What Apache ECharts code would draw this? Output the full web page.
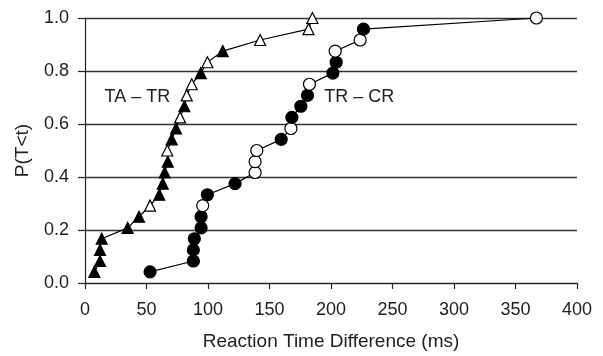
<!DOCTYPE html>
<html>
<head>
<meta charset="utf-8">
<script src="https://cdn.jsdelivr.net/npm/echarts@6/dist/echarts.min.js"></script>
<style>html,body{margin:0;padding:0;background:#fff}#c{width:603px;height:356px}</style>
</head>
<body>
<div id="c"></div>
<script>
// Cumulative probability levels P(T<t)
var probs = [0.042,0.083,0.125,0.167,0.208,0.25,0.292,0.333,0.375,0.417,0.458,0.5,0.542,0.583,0.625,0.667,0.708,0.75,0.792,0.833,0.875,0.917,0.958,1.0];
// TA – TR reaction time differences (ms)
var taTrX = [7.6,12.2,12.2,13.6,34.7,43.9,52.9,60.4,63.2,64.8,67.3,66.9,70.5,74,77.3,80.8,82.7,86.8,94.1,99.5,112,142.4,181.7,184.9];
var taTrFilled = [1,1,1,1,1,1,0,1,1,1,1,0,1,1,0,1,0,0,1,0,1,0,0,0];
// TR – CR reaction time differences (ms)
var trCrX = [52.9,88.1,88.1,88.9,94.4,94.4,95.7,99.5,122,138.3,138.3,139.7,159.5,167.4,168.2,175.5,180.9,182.5,201.5,204.2,203.4,223.7,226.4,367];
var trCrFilled = [1,1,1,1,1,1,0,1,1,0,0,0,1,0,1,1,1,0,1,1,0,0,1,0];
var xTicks = [0,50,100,150,200,250,300,350,400];
var yTicks = [0,0.2,0.4,0.6,0.8,1.0];
var seriesNames = ['TA – TR', 'TR – CR'];

function build(xs, flags){
  return xs.map(function(x,i){
    return {value:[x, probs[i]], itemStyle:{color: flags[i] ? '#000' : '#fff', borderColor:'#000', borderWidth:1.2}};
  });
}
function tag(text, coord){
  return {symbol:'circle', symbolSize:1, itemStyle:{color:'rgba(0,0,0,0)'},
    data:[{coord:coord, label:{show:true, position:'inside', formatter:text, fontFamily:font, fontSize:18, color:'#222'}}]};
}
var font = 'Arial, "Liberation Sans", sans-serif';
var chart = echarts.init(document.getElementById('c'), null, {renderer:'canvas'});
chart.setOption({
  animation:false,
  backgroundColor:'#fff',
  grid:{left:85, right:26, top:18, bottom:71, containLabel:false},
  xAxis:{
    type:'value', min:xTicks[0], max:xTicks[xTicks.length-1], interval:50,
    name:'Reaction Time Difference (ms)', nameLocation:'middle', nameGap:49,
    nameTextStyle:{fontFamily:font, fontSize:19, color:'#222'},
    axisLine:{onZero:false, lineStyle:{color:'#222', width:1.2}},
    axisTick:{show:true, inside:false, length:6, lineStyle:{color:'#222', width:1.2}},
    axisLabel:{fontFamily:font, fontSize:18, color:'#222', margin:18},
    splitLine:{show:false}
  },
  yAxis:{
    type:'value', min:yTicks[0], max:yTicks[yTicks.length-1], interval:0.2,
    name:'P(T<t)', nameLocation:'middle', nameGap:53, nameRotate:90,
    nameTextStyle:{fontFamily:font, fontSize:19, color:'#222'},
    axisLine:{show:true, lineStyle:{color:'#222', width:1.2}},
    axisTick:{show:true, inside:false, length:7, lineStyle:{color:'#222', width:1.2}},
    axisLabel:{fontFamily:font, fontSize:18, color:'#222', margin:16, formatter:function(v){return v.toFixed(1);}},
    splitLine:{show:true, lineStyle:{color:'#333', width:1.4}}
  },
  series:[
    {name:seriesNames[0], type:'line', data:build(taTrX, taTrFilled), symbol:'triangle', symbolSize:11,
     lineStyle:{color:'#000', width:1.2}, z:3, markPoint:tag(seriesNames[0], [42.6,0.703])},
    {name:seriesNames[1], type:'line', data:build(trCrX, trCrFilled), symbol:'circle', symbolSize:12,
     lineStyle:{color:'#000', width:1.2}, z:3, markPoint:tag(seriesNames[1], [223,0.703])}
  ]
});
</script>
</body>
</html>
